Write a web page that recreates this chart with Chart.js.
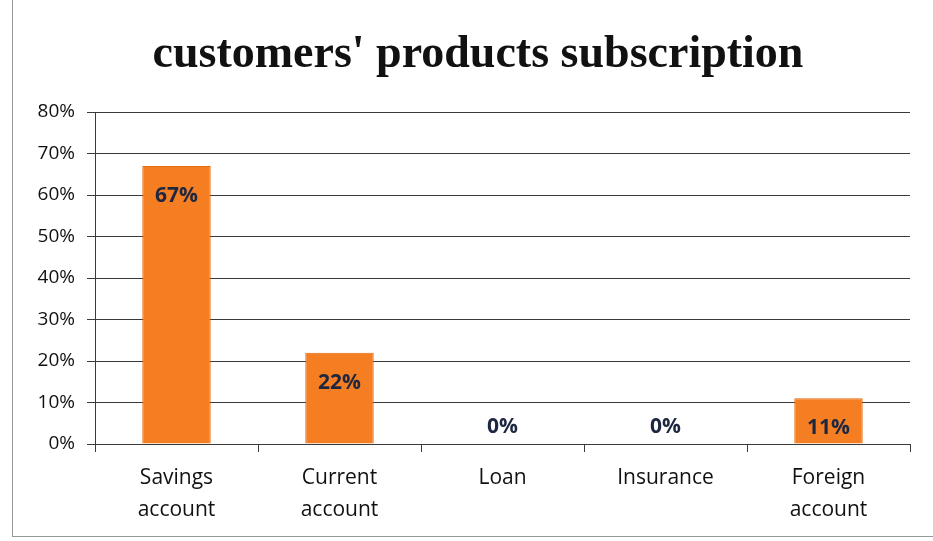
<!DOCTYPE html>
<html>
<head>
<meta charset="utf-8">
<script src="https://cdn.jsdelivr.net/npm/chart.js@4"></script>
<style>
    html, body { margin: 0; padding: 0; background: #fff; }
    #wrap { position: relative; width: 933px; height: 541px; }
    #frame {
        position: absolute; left: 12px; top: 0; width: 921px; height: 536px;
        border-left: 1px solid #999; border-bottom: 1px solid #999;
        pointer-events: none;
    }
</style>
</head>
<body>
<div id="wrap">
    <canvas id="chart" width="933" height="541"></canvas>
    <div id="frame"></div>
</div>
<script>
const TITLE = "customers' products subscription";
const CATEGORIES = [
    ["Savings", "account"],
    ["Current", "account"],
    "Loan",
    "Insurance",
    ["Foreign", "account"]
];
const SUBSCRIPTIONS = [67, 22, 0, 0, 11];
const Y_TICKS = [0, 10, 20, 30, 40, 50, 60, 70, 80];

// heading sits over the middle of the whole frame, not just the plot
const heading = {
    id: 'heading',
    afterDraw(chart) {
        const ctx = chart.ctx;
        ctx.save();
        ctx.font = 'bold 46px "Liberation Serif"';
        ctx.fillStyle = '#111';
        ctx.textAlign = 'center';
        ctx.textBaseline = 'middle';
        ctx.fillText(TITLE, 478, 55);
        ctx.restore();
    }
};

// value labels: inside the bar top, or just above the base for zero bars
const valueLabels = {
    id: 'valueLabels',
    afterDatasetsDraw(chart) {
        const ctx = chart.ctx;
        const meta = chart.getDatasetMeta(0);
        ctx.save();
        ctx.font = 'bold 21px "Open Sans"';
        ctx.fillStyle = '#1d2740';
        ctx.textAlign = 'center';
        ctx.textBaseline = 'middle';
        meta.data.forEach((bar, i) => {
            const v = SUBSCRIPTIONS[i];
            const y = v > 0 ? bar.y + 30 : bar.base - 17;
            ctx.fillText(v + '%', bar.x, y);
        });
        ctx.restore();
    }
};

new Chart(document.getElementById('chart'), {
    type: 'bar',
    data: {
        labels: CATEGORIES,
        datasets: [{
            data: SUBSCRIPTIONS,
            backgroundColor: '#f67e22',
            borderColor: '#e4690f',
            borderWidth: 1,
            categoryPercentage: 1,
            barPercentage: 0.42
        }]
    },
    options: {
        responsive: false,
        animation: false,
        layout: { padding: { left: 0, right: 23, top: 112, bottom: 0 } },
        plugins: {
            legend: { display: false },
            tooltip: { enabled: false },
            title: { display: false }
        },
        scales: {
            y: {
                min: 0,
                max: 80,
                afterBuildTicks: (scale) => { scale.ticks = Y_TICKS.map(v => ({ value: v })); },
                afterFit: (scale) => { scale.width = 95; },
                ticks: {
                    callback: (v) => v + '%',
                    color: '#111',
                    padding: 12,
                    font: { family: '"Open Sans"', size: 19 }
                },
                grid: { color: '#3a3a3a', lineWidth: 1, tickLength: 8 },
                border: { display: true, color: '#3a3a3a', width: 1 }
            },
            x: {
                afterFit: (scale) => { scale.height = 97; },
                ticks: {
                    color: '#111',
                    padding: 10,
                    font: { family: '"Open Sans"', size: 21, lineHeight: 1.52 }
                },
                grid: { drawOnChartArea: false, color: '#3a3a3a', tickLength: 8, offset: true },
                border: { display: true, color: '#3a3a3a', width: 1 }
            }
        }
    },
    plugins: [heading, valueLabels]
});
</script>
</body>
</html>
